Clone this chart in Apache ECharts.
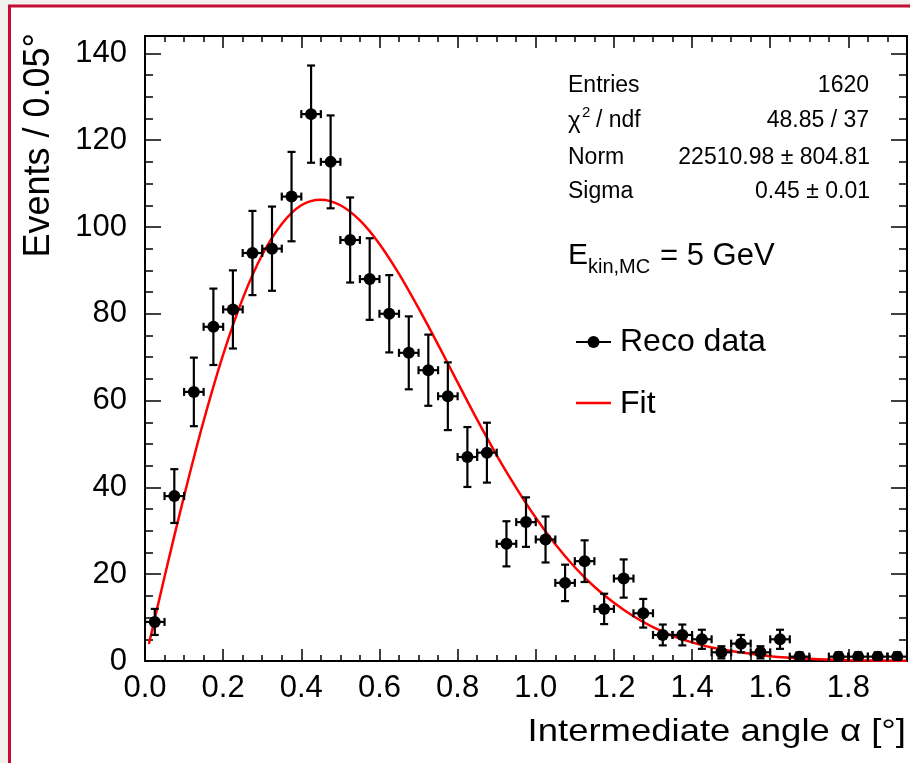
<!DOCTYPE html>
<html>
<head>
<meta charset="utf-8">
<title>Intermediate angle</title>
<script src="https://cdn.jsdelivr.net/npm/echarts@6/dist/echarts.min.js"></script>
<style>
    html, body { margin: 0; padding: 0; background: #f2f1ef; }
    #main { width: 910px; height: 763px; }
</style>
</head>
<body>
<div id="main"></div>
<script>
    // bin centres (deg), counts and error bars
    var binCenters = [0.025, 0.075, 0.125, 0.175, 0.225, 0.275, 0.325, 0.375, 0.425, 0.475,
        0.525, 0.575, 0.625, 0.675, 0.725, 0.775, 0.825, 0.875, 0.925, 0.975,
        1.025, 1.075, 1.125, 1.175, 1.225, 1.275, 1.325, 1.375, 1.425, 1.475,
        1.525, 1.575, 1.625, 1.675, 1.725, 1.775, 1.825, 1.875, 1.925];
    var counts = [9, 38, 62, 77, 81, 94, 95, 107, 126, 115,
        97, 88, 80, 71, 67, 61, 47, 48, 27, 32,
        28, 18, 23, 12, 19, 11, 6, 6, 5, 2,
        4, 2, 5, 1, 0, 1, 1, 1, 1];
    var errors = [3, 6.2, 7.9, 8.8, 9, 9.7, 9.7, 10.3, 11.2, 10.7,
        9.8, 9.4, 8.9, 8.4, 8.2, 7.8, 6.9, 6.9, 5.2, 5.7,
        5.3, 4.2, 4.8, 3.5, 4.4, 3.3, 2.4, 2.4, 2.2, 1.4,
        2, 1.4, 2.2, 1, 0, 1, 1, 1, 1];
    var binWidth = 0.05;

    // fit curve points
    var fitX = [0.01, 0.05, 0.1, 0.15, 0.2, 0.25, 0.3, 0.35, 0.4, 0.45, 0.5, 0.55, 0.6, 0.65,
        0.7, 0.75, 0.8, 0.85, 0.9, 0.95, 1.0, 1.05, 1.1, 1.15, 1.2, 1.25, 1.3, 1.35,
        1.4, 1.45, 1.5, 1.6, 1.7, 1.8, 1.95];
    var fitY = [3.9, 19.4, 38.0, 55.3, 70.6, 83.5, 93.6, 100.7, 105.0, 106.3, 105.0, 101.5, 96.1, 89.2,
        81.3, 72.9, 64.2, 55.6, 47.4, 39.9, 33.0, 26.9, 21.6, 17.1, 13.4, 10.3, 7.8, 5.8,
        4.3, 3.1, 2.3, 1.1, 0.5, 0.2, 0.05];

    // stats box
    var statLabels = ['Entries', 'Norm', 'Sigma'];
    var statValues = ['1620', '22510.98 \u00b1 804.81', '0.45 \u00b1 0.01'];
    var chiValue = '48.85 / 37';

    var xMin = 0, xMax = 1.95, xStep = 0.2, xMinor = 0.05;
    var yMin = 0, yMax = 144, yStep = 20, yMinor = 5;

    var FONT = '"Liberation Sans", Arial, Helvetica, sans-serif';

    var points = [];
    for (var i = 0; i < binCenters.length; i++) {
        points.push([binCenters[i], counts[i], errors[i]]);
    }
    var fitData = [];
    for (var j = 0; j < fitX.length; j++) {
        fitData.push([fitX[j], fitY[j]]);
    }

    function errorBar(params, api) {
        var x = api.value(0), y = api.value(1), e = api.value(2);
        if (!(y > 0)) return null;
        var c = api.coord([x, y]);
        var lo = api.coord([x, y - e]);
        var hi = api.coord([x, y + e]);
        var l = api.coord([x - binWidth / 2, y]);
        var r = api.coord([x + binWidth / 2, y]);
        var st = { stroke: '#000', lineWidth: 2.2 };
        var cap = 4;
        return {
            type: 'group',
            children: [
                { type: 'line', shape: { x1: lo[0], y1: lo[1], x2: hi[0], y2: hi[1] }, style: st },
                { type: 'line', shape: { x1: lo[0] - cap, y1: lo[1], x2: lo[0] + cap, y2: lo[1] }, style: st },
                { type: 'line', shape: { x1: hi[0] - cap, y1: hi[1], x2: hi[0] + cap, y2: hi[1] }, style: st },
                { type: 'line', shape: { x1: l[0], y1: l[1], x2: r[0], y2: r[1] }, style: st },
                { type: 'line', shape: { x1: l[0], y1: l[1] - cap, x2: l[0], y2: l[1] + cap }, style: st },
                { type: 'line', shape: { x1: r[0], y1: r[1] - cap, x2: r[0], y2: r[1] + cap }, style: st },
                { type: 'circle', shape: { cx: c[0], cy: c[1], r: 6 }, style: { fill: '#000' } }
            ]
        };
    }

    // one axis for major ticks (+labels), one for minor ticks, on each side
    function xAx(pos, step, len, labels) {
        return {
            type: 'value', position: pos, min: xMin, max: xMax, interval: step,
            axisLine: { show: labels || pos === 'top', onZero: false, lineStyle: { color: '#000', width: 2 } },
            axisTick: { show: true, inside: true, length: len, lineStyle: { color: '#000', width: 1.5 } },
            axisLabel: {
                show: !!labels, fontSize: 31, fontFamily: FONT, color: '#000', margin: 12,
                showMaxLabel: false,
                formatter: function (v) { return v.toFixed(1); }
            },
            splitLine: { show: false }
        };
    }
    function yAx(pos, step, len, labels) {
        return {
            type: 'value', position: pos, min: yMin, max: yMax, interval: step,
            axisLine: { show: labels || pos === 'right', onZero: false, lineStyle: { color: '#000', width: 2 } },
            axisTick: { show: true, inside: true, length: len, lineStyle: { color: '#000', width: 1.5 } },
            axisLabel: {
                show: !!labels, fontSize: 31, fontFamily: FONT, color: '#000', margin: 18,
                showMaxLabel: false
            },
            splitLine: { show: false }
        };
    }

    function txt(x, y, s, size, align, extra) {
        var o = {
            type: 'text', x: x, y: y, z: 50,
            style: {
                text: s, font: size + 'px ' + FONT, fill: '#000',
                align: align || 'left', verticalAlign: 'middle'
            }
        };
        if (extra) for (var k in extra) o[k] = extra[k];
        return o;
    }

    var graphics = [
        // page frame
        { type: 'rect', z: -10, shape: { x: 9.5, y: 6, width: 1000, height: 1000 },
          style: { fill: '#fff', stroke: '#c40c34', lineWidth: 3 } },
        // axis titles
        txt(39, 33, 'Events / 0.05\u00b0', 36, 'right', { rotation: Math.PI / 2 }),
        txt(906, 732, 'Intermediate angle \u03b1 [\u00b0]', 32, 'right', { scaleX: 1.14 }),
        // stats
        txt(568, 86, statLabels[0], 23), txt(869, 86, statValues[0], 23, 'right'),
        txt(568, 121, '\u03c7', 24), txt(582, 113, '2', 15), txt(596, 121, '/ ndf', 23),
        txt(869, 121, chiValue, 23, 'right'),
        txt(568, 157.5, statLabels[1], 23), txt(870, 157.5, statValues[1], 23, 'right'),
        txt(568, 192, statLabels[2], 23), txt(870, 192, statValues[2], 23, 'right'),
        // energy label
        txt(568, 256, 'E', 30), txt(588, 267, 'kin,MC', 20), txt(660, 256, '= 5 GeV', 31),
        // legend
        { type: 'line', z: 50, shape: { x1: 576, y1: 342, x2: 611, y2: 342 }, style: { stroke: '#000', lineWidth: 2.2 } },
        { type: 'circle', z: 50, shape: { cx: 593.5, cy: 342, r: 6 }, style: { fill: '#000' } },
        txt(620, 342.5, 'Reco data', 32),
        { type: 'line', z: 50, shape: { x1: 576, y1: 403, x2: 611, y2: 403 }, style: { stroke: '#ff0000', lineWidth: 2.5 } },
        txt(620, 404, 'Fit', 32)
    ];

    var dom = document.getElementById('main');
    var myChart = echarts.init(dom, null, { renderer: 'canvas' });
    var option = {
        backgroundColor: '#f2f1ef',
        animation: false,
        grid: { left: 145, top: 36, width: 762, height: 625, containLabel: false },
        xAxis: [
            xAx('bottom', xStep, 12, true),
            xAx('bottom', xMinor, 6, false),
            xAx('top', xStep, 12, false),
            xAx('top', xMinor, 6, false)
        ],
        yAxis: [
            yAx('left', yStep, 16, true),
            yAx('left', yMinor, 8, false),
            yAx('right', yStep, 16, false),
            yAx('right', yMinor, 8, false)
        ],
        graphic: graphics,
        series: [{
            name: 'Fit',
            type: 'line',
            data: fitData,
            smooth: 0.3,
            showSymbol: false,
            lineStyle: { color: '#ff0000', width: 2.5 },
            clip: true,
            z: 3
        }, {
            name: 'Reco data',
            type: 'custom',
            data: points,
            renderItem: errorBar,
            clip: true,
            z: 4
        }]
    };
    myChart.setOption(option);
</script>
</body>
</html>
